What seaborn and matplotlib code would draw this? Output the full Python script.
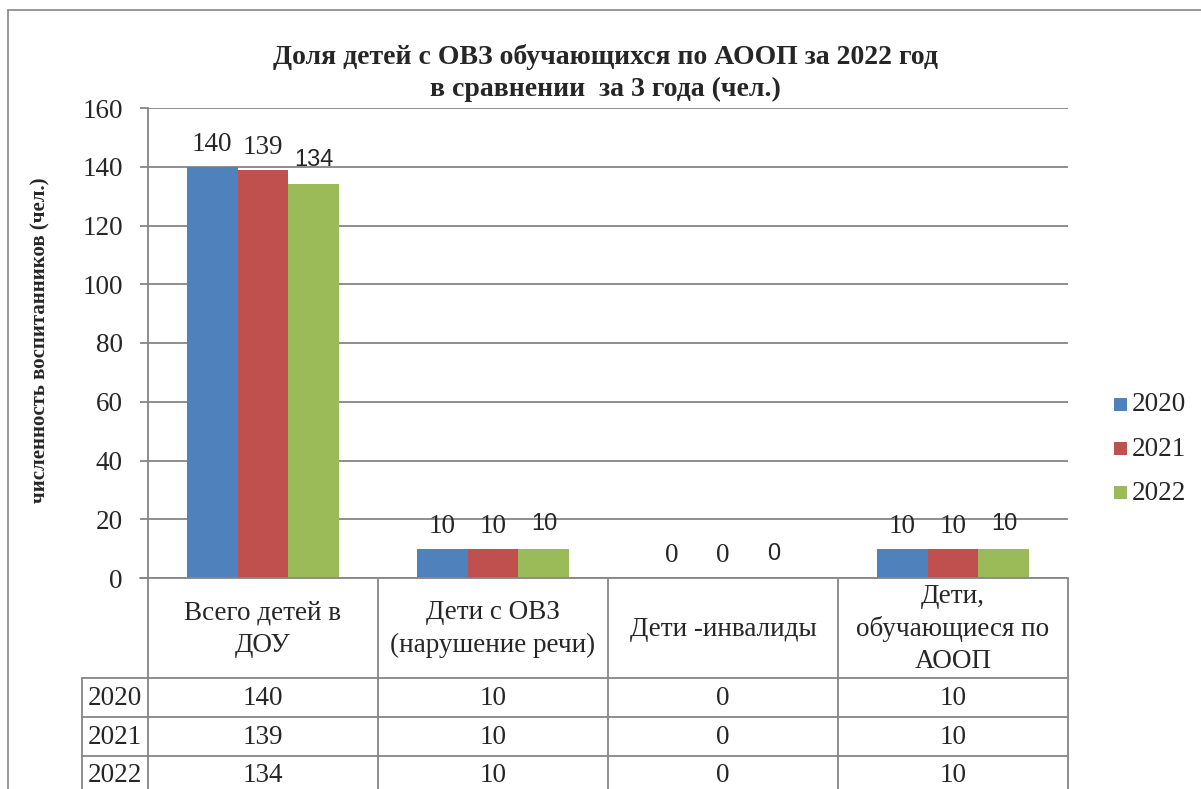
import pandas as pd
import matplotlib
matplotlib.use('Agg')
import matplotlib.pyplot as plt
import seaborn as sns
from matplotlib.lines import Line2D
from matplotlib.patches import Rectangle

categories = ['Всего детей в\nДОУ', 'Дети с ОВЗ\n(нарушение речи)', 'Дети -инвалиды',
              'Дети,\nобучающиеся по\nАООП']
years = ['2020', '2021', '2022']
vals_2020 = [140, 10, 0, 10]
vals_2021 = [139, 10, 0, 10]
vals_2022 = [134, 10, 0, 10]
colors = ['#4F81BD', '#C0504D', '#9BBB59']

df = pd.DataFrame({
    'cat': categories * 3,
    'year': [y for y in years for _ in categories],
    'val': vals_2020 + vals_2021 + vals_2022,
})

sns.set_style('white')
plt.rcParams['font.family'] = 'serif'
plt.rcParams['font.serif'] = ['Liberation Serif', 'DejaVu Serif']
SERIF = 'Liberation Serif'

W, H = 1201, 789
fig = plt.figure(figsize=(W / 100, H / 100), dpi=100)

def fx(x):
    return x / W

def fy(y):
    return 1 - y / H

# plot area in pixels
L, R, T, B = 148, 1068, 108, 578
ax = fig.add_axes([fx(L), fy(B), fx(R - L), (B - T) / H])
grey = '#868686'

sns.barplot(data=df, x='cat', y='val', hue='year', palette=colors, width=0.665,
            gap=0, saturation=1, ax=ax, legend=False, edgecolor='none')
ax.set_ylim(0, 160)
ax.set_yticks(range(0, 161, 20))
ax.set_xlim(-0.5, 3.5)
ax.yaxis.grid(True, color=grey, lw=1.3)
ax.set_axisbelow(True)
for s in ['top', 'right', 'bottom']:
    ax.spines[s].set_visible(False)
ax.spines['left'].set_color(grey)
ax.spines['left'].set_linewidth(1.3)
ax.tick_params(axis='y', length=6, color=grey, width=1.3, labelsize=19.5, pad=12, left=True)
for lab in ax.get_yticklabels():
    lab.set_family(SERIF)
ax.set_xticks([])
ax.set_xlabel('')
ax.set_ylabel('')

# value labels
for i, cont in enumerate(ax.containers):
    if i < 2:
        ax.bar_label(cont, padding=7, fontsize=19.5, family=SERIF)
    else:
        ax.bar_label(cont, padding=9.5, fontsize=17, family='Liberation Sans')

# title and y label
fig.text(fx(605), fy(73), 'Доля детей с ОВЗ обучающихся по АООП за 2022 год\nв сравнении  за 3 года (чел.)',
         ha='center', va='center', fontsize=20, fontweight='bold', linespacing=1.33, family=SERIF)
fig.text(fx(40), fy(340), 'численность воспитанников (чел.)', rotation=90, ha='center', va='center',
         fontsize=15, fontweight='bold', family=SERIF)

# legend
for k, (yr, c) in enumerate(zip(years, colors)):
    yy = 405 + k * 44
    fig.add_artist(Rectangle((fx(1114), fy(yy + 6)), fx(13), 13 / H, color=c, lw=0))
    fig.text(fx(1132), fy(yy), yr, ha='left', va='center', fontsize=19.5, family=SERIF)

# outer border
fig.add_artist(Line2D([fx(8), fx(1201)], [fy(10), fy(10)], color=grey, lw=1.2))
fig.add_artist(Line2D([fx(8), fx(8)], [fy(10), fy(789)], color=grey, lw=1.2))

# data table
col_edges = [L + i * (R - L) / 4 for i in range(5)]
row_edges = [B, 678, 717, 756, 795]

def hline(y, x0, x1):
    fig.add_artist(Line2D([fx(x0), fx(x1)], [fy(y), fy(y)], color=grey, lw=1.3))

def vline(x, y0, y1):
    fig.add_artist(Line2D([fx(x), fx(x)], [fy(y0), fy(y1)], color=grey, lw=1.3))

hline(B, 140, R)
for y in row_edges[1:4]:
    hline(y, 82, R)
for x in col_edges:
    vline(x, B, 789)
vline(82, 678, 789)

for j, cat in enumerate(categories):
    cx = (col_edges[j] + col_edges[j + 1]) / 2
    fig.text(fx(cx), fy(629), cat, ha='center', va='center', fontsize=19.5,
             linespacing=1.38, family=SERIF)

series = [vals_2020, vals_2021, vals_2022]
for r, (yr, vals) in enumerate(zip(years, series)):
    cy = (row_edges[r + 1] + row_edges[r + 2]) / 2 + 1
    if r == 2:
        cy = 776
    fig.text(fx(115), fy(cy), yr, ha='center', va='center', fontsize=19.5, family=SERIF)
    for j, v in enumerate(vals):
        cx = (col_edges[j] + col_edges[j + 1]) / 2
        fig.text(fx(cx), fy(cy), str(v), ha='center', va='center', fontsize=19.5, family=SERIF)

fig.savefig('out.png', dpi=100)
